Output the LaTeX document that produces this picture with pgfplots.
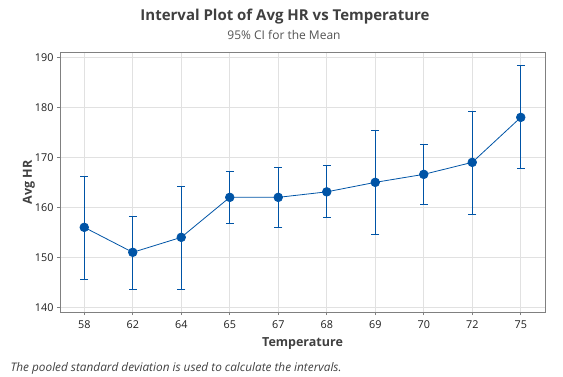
\documentclass[border=0pt]{standalone}
\usepackage{pgfplots}
\pgfplotsset{compat=1.18}
\usepackage{fontspec}
\setmainfont{Open Sans}
\definecolor{mblue}{RGB}{0,84,166}
\definecolor{gridc}{RGB}{225,225,225}
\definecolor{framec}{RGB}{128,128,128}
\definecolor{textc}{RGB}{64,64,64}
\definecolor{tickc}{RGB}{30,30,30}
\pgfplotstableread{
x y ep em
0 156.0 10.2 10.4
1 151.0 7.2 7.4
2 154.0 10.2 10.4
3 162.0 5.2 5.2
4 162.0 6.0 6.0
5 163.1 5.3 5.1
6 165.0 10.3 10.4
7 166.6 6.0 6.0
8 169.0 10.2 10.4
9 178.0 10.3 10.3
}\datatable
\begin{document}
\begin{tikzpicture}
\path[use as bounding box] (0,0) rectangle (563pt,376pt);
\begin{axis}[
  at={(60pt,64pt)}, anchor=south west,
  scale only axis, width=485pt, height=259.3pt,
  xmin=-0.5, xmax=9.5, ymin=139.06, ymax=190.94,
  xtick={0,...,9}, xticklabels={58,62,64,65,67,68,69,70,72,75},
  ytick={140,150,...,190},
  grid=major, major grid style={gridc, line width=0.8pt},
  axis line style={framec, line width=0.8pt},
  tick style={framec, line width=0.8pt}, tick align=outside, major tick length=3pt,
  tick pos=left,
  /pgf/number format/assume math mode=true,
  ticklabel style={font=\fontsize{10.8}{12}\selectfont, text=tickc},
  xticklabel style={yshift=-2pt},
  xlabel={Temperature}, ylabel={Avg HR},
  label style={font=\fontsize{12.5}{14}\selectfont\bfseries, text=textc},
  xlabel style={at={(axis description cs:0.5,-0.1234)}, anchor=center},
  ylabel style={at={(axis description cs:-0.0639,0.5)}, anchor=center},
]
\addplot[mblue, line width=0.8pt, mark=*, mark size=4.3pt,
  mark options={fill=mblue, draw=mblue},
  error bars/.cd, y dir=both, y explicit,
  error bar style={mblue, line width=1.2pt},
  error mark options={rotate=90, mblue, mark size=4pt, line width=1.2pt}]
  table[x=x, y=y, y error plus=ep, y error minus=em] {\datatable};
\end{axis}
\node[font=\fontsize{15}{18}\selectfont\bfseries, text=textc] at (285pt,359pt) {Interval Plot of Avg HR vs Temperature};
\node[font=\fontsize{12}{14}\selectfont, text=textc!90] at (284pt,341pt) {95\% CI for the Mean};
\node[font=\fontsize{11.8}{13}\selectfont\itshape, text=textc, anchor=west] at (7pt,8pt) {The pooled standard deviation is used to calculate the intervals.};
\end{tikzpicture}
\end{document}
